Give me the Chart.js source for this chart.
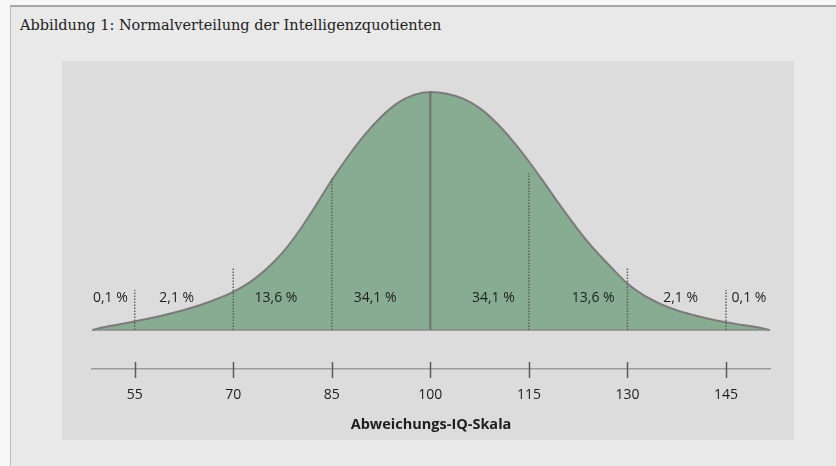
<!DOCTYPE html>
<html lang="de">
<head>
<meta charset="utf-8">
<title>Normalverteilung der Intelligenzquotienten</title>
<script src="https://cdn.jsdelivr.net/npm/chart.js@4.4.1/dist/chart.umd.min.js"></script>
<style>
  html, body { margin: 0; padding: 0; }
  body { width: 836px; height: 466px; position: relative; overflow: hidden; background: #f6f6f6; }
  .frame { position: absolute; left: 10px; top: 5px; right: 0; bottom: 0; background: #e9e9e9;
           border-top: 2px solid #a6a6a6; border-left: 1px solid #bdbdbd; }
  .panel { position: absolute; left: 62px; top: 61px; width: 732px; height: 379px; background: #dcdcdc; }
  h1 { position: absolute; left: 20px; top: 17px; margin: 0; font: normal 14.5px 'DejaVu Serif', serif; color: #222; }
  .wrap { position: absolute; left: 0; top: 0; width: 836px; height: 466px; }
</style>
</head>
<body>
<div class="frame"></div>
<div class="panel"></div>
<h1>Abbildung 1: Normalverteilung der Intelligenzquotienten</h1>
<div class="wrap"><canvas id="iqChart"></canvas></div>
<script>
// --- data (height in % of the peak) ---
const curveIQ = [48.5, 50, 52.5, 55, 57.5, 60, 62.5, 65, 67.5, 70, 72.5, 75, 77.5, 80, 82.5, 85, 87.5, 90, 92.5, 95, 97.5,
                 100, 102.5, 105, 107.5, 110, 112.5, 115, 117.5, 120, 122.5, 125, 127.5, 130, 132.5, 135, 137.5, 140, 142.5, 145, 147.5, 150, 151.7];
const curveHeight = [0, 1.0, 2.3, 3.6, 5.0, 6.6, 8.4, 10.5, 13, 16, 20, 25.5, 32.5, 41.5, 52, 63, 73, 82, 89.5, 95.3, 98.8,
                     100, 99.3, 97.2, 93.2, 87.2, 79.6, 70.8, 61.2, 51.4, 42.1, 33.7, 26.4, 19.5, 14.5, 11, 8.3, 6.3, 4.6, 3.2, 2.1, 1.0, 0];

const tickValues = [55, 70, 85, 100, 115, 130, 145];
const meanIQ = [100];
const meanTop = [100];
const dottedIQ = [55, 70, 85, 115, 130, 145];
const dottedTop = [16.8, 26, 64, 66, 26, 16.8];

const shareLabels = ['0,1 %', '2,1 %', '13,6 %', '34,1 %', '34,1 %', '13,6 %', '2,1 %', '0,1 %'];
const shareIQ = [51.3, 61.4, 76.5, 91.6, 109.6, 124.8, 138.1, 148.5];
const shareLevel = [13.4];

const axisTitle = 'Abweichungs-IQ-Skala';

const COLORS = {
  fill: '#88ac91',
  curve: '#7b7b7b',
  base: '#8a8a8a',
  mean: '#6f6f6f',
  dotted: '#606060',
  axis: '#9b9b9b',
  tick: '#5a5a5a',
  text: '#1e1e1e',
};
const SANS = "'Open Sans', 'Noto Sans', sans-serif";

const seg = (x, top) => [{ x: x, y: 0 }, { x: x, y: top }];

const datasets = [
  {
    label: 'Verteilung',
    data: curveIQ.map((x, i) => ({ x: x, y: curveHeight[i] })),
    borderColor: COLORS.curve,
    borderWidth: 2,
    backgroundColor: COLORS.fill,
    fill: 'origin',
    pointRadius: 0,
    cubicInterpolationMode: 'monotone',
    order: 3,
  },
  {
    label: 'Basis',
    data: [{ x: curveIQ[0], y: 0 }, { x: curveIQ[curveIQ.length - 1], y: 0 }],
    borderColor: COLORS.base,
    borderWidth: 1.5,
    pointRadius: 0,
    order: 2,
  },
  {
    label: 'Mittelwert',
    data: seg(meanIQ[0], meanTop[0]),
    borderColor: COLORS.mean,
    borderWidth: 2,
    pointRadius: 0,
    order: 1,
  },
];
dottedIQ.forEach((x, i) => {
  datasets.push({
    label: 'SD ' + x,
    data: seg(x, dottedTop[i]),
    borderColor: COLORS.dotted,
    borderWidth: 1.5,
    borderDash: [1.5, 1.5],
    pointRadius: 0,
    order: 1,
  });
});

// tick marks crossing the axis line + percentage labels
const overlay = {
  id: 'overlay',
  afterDatasetsDraw(chart) {
    const { ctx, scales: { x, y } } = chart;
    const y0 = x.top;
    ctx.save();
    ctx.strokeStyle = COLORS.tick;
    ctx.lineWidth = 1.5;
    tickValues.forEach(v => {
      const px = Math.round(x.getPixelForValue(v)) + 0.5;
      ctx.beginPath();
      ctx.moveTo(px, y0 - 7);
      ctx.lineTo(px, y0 + 9);
      ctx.stroke();
    });
    ctx.fillStyle = COLORS.text;
    ctx.font = '14px ' + SANS;
    ctx.textAlign = 'center';
    ctx.textBaseline = 'middle';
    const ly = y.getPixelForValue(shareLevel[0]);
    shareLabels.forEach((t, i) => ctx.fillText(t, x.getPixelForValue(shareIQ[i]), ly));
    ctx.restore();
  },
};

new Chart(document.getElementById('iqChart'), {
  type: 'line',
  data: { datasets: datasets },
  plugins: [overlay],
  options: {
    responsive: true,
    maintainAspectRatio: false,
    animation: false,
    events: [],
    layout: { padding: { left: 92, right: 66, top: 68.2, bottom: 32.8 } },
    plugins: { legend: { display: false }, tooltip: { enabled: false } },
    scales: {
      x: {
        type: 'linear',
        min: 48.5,
        max: 151.7,
        grid: { display: false, drawTicks: false },
        border: { display: true, color: COLORS.axis, width: 1.5 },
        afterBuildTicks: s => { s.ticks = tickValues.map(v => ({ value: v })); },
        ticks: { autoSkip: false, maxRotation: 0, padding: 18, color: COLORS.text, font: { family: SANS, size: 14 } },
        title: { display: true, text: axisTitle, color: COLORS.text, padding: { top: -6, bottom: 0 },
                 font: { family: SANS, size: 14.5, weight: 'bold' } },
      },
      y: { display: false, min: -16.4, max: 110 },
    },
  },
});
</script>
</body>
</html>
